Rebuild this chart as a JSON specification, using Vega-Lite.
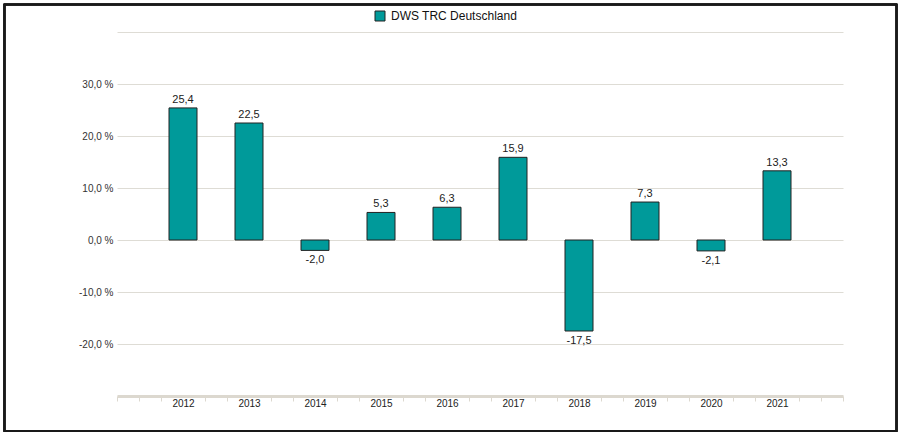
{
  "$schema": "https://vega.github.io/schema/vega-lite/v6.json",
  "width": 726,
  "height": 364,
  "autosize": {"type": "none"},
  "padding": {"left": 117, "top": 32, "right": 58, "bottom": 37},
  "background": "white",
  "config": {"view": {"stroke": null}, "font": "Liberation Sans"},
  "data": {"values": [
    {"year": 2012, "value": 25.4, "label": "25,4"},
    {"year": 2013, "value": 22.5, "label": "22,5"},
    {"year": 2014, "value": -2.0, "label": "-2,0"},
    {"year": 2015, "value": 5.3, "label": "5,3"},
    {"year": 2016, "value": 6.3, "label": "6,3"},
    {"year": 2017, "value": 15.9, "label": "15,9"},
    {"year": 2018, "value": -17.5, "label": "-17,5"},
    {"year": 2019, "value": 7.3, "label": "7,3"},
    {"year": 2020, "value": -2.1, "label": "-2,1"},
    {"year": 2021, "value": 13.3, "label": "13,3"}
  ]},
  "resolve": {"axis": {"x": "independent", "y": "independent"}},
  "encoding": {
    "x": {"field": "year", "type": "quantitative", "scale": {"domain": [2011, 2022], "nice": false, "zero": false, "padding": 0}, "axis": null},
    "y": {"field": "value", "type": "quantitative", "scale": {"domain": [-30, 40], "nice": false, "zero": false, "padding": 0}, "axis": null}
  },
  "layer": [
    {
      "mark": {"type": "bar", "opacity": 0},
      "encoding": {
        "x": {"field": "year", "type": "quantitative",
          "axis": {"orient": "bottom", "values": [2011, 2011.3333, 2011.6667, 2012.3333, 2012.6667, 2013.3333, 2013.6667, 2014.3333, 2014.6667, 2015.3333, 2015.6667, 2016.3333, 2016.6667, 2017.3333, 2017.6667, 2018.3333, 2018.6667, 2019.3333, 2019.6667, 2020.3333, 2020.6667, 2021.3333, 2021.6667, 2022],
            "labels": false, "title": null, "grid": false, "domain": true, "domainColor": "#dcd8cf", "domainWidth": 3, "ticks": true, "tickColor": "#dcd8cf", "tickSize": 5, "tickWidth": 1}},
        "y": {"field": "value", "type": "quantitative",
          "axis": {"orient": "left", "values": [-20, -10, 0, 10, 20, 30, 40], "labelExpr": "datum.value == 40 ? '' : replace(replace(format(datum.value, '.1f'), '.', ','), '\u2212', '-') + ' %'",
            "title": null, "domain": false, "ticks": false, "labelPadding": 4, "labelFontSize": 10, "labelColor": "#333", "grid": true, "gridColor": "#dedcd5", "gridWidth": 1}}
      }
    },
    {
      "mark": {"type": "bar", "size": 28, "orient": "vertical", "stroke": "#222", "strokeWidth": 1},
      "encoding": {
        "x": {"field": "year", "type": "quantitative",
          "axis": {"orient": "bottom", "values": [2012, 2013, 2014, 2015, 2016, 2017, 2018, 2019, 2020, 2021], "format": "d", "title": null, "grid": false, "domain": false, "ticks": false, "labelPadding": 2, "labelFontSize": 10, "labelColor": "#222"}},
        "y": {"field": "value", "type": "quantitative", "axis": null},
        "y2": {"datum": 0},
        "color": {"datum": "DWS TRC Deutschland", "type": "nominal", "scale": {"range": ["#009a9a"]},
          "legend": {"title": null, "orient": "none", "legendX": 257, "legendY": -22, "padding": 0, "symbolType": "square", "symbolSize": 100, "symbolStrokeColor": "#222", "symbolStrokeWidth": 1, "labelFontSize": 12, "labelColor": "#111", "labelOffset": 5}}
      }
    },
    {
      "transform": [{"filter": "datum.value >= 0"}],
      "mark": {"type": "text", "baseline": "alphabetic", "dy": -5, "fontSize": 11, "color": "#222"},
      "encoding": {"text": {"field": "label"}}
    },
    {
      "transform": [{"filter": "datum.value < 0"}],
      "mark": {"type": "text", "baseline": "top", "dy": 4, "fontSize": 11, "color": "#222"},
      "encoding": {"text": {"field": "label"}}
    },
    {
      "mark": {"type": "rect", "fill": null, "stroke": "#1a1a1a", "strokeWidth": 1.5, "clip": false},
      "encoding": {
        "x": {"datum": 2009.295, "type": "quantitative", "axis": null},
        "x2": {"datum": 2022.811},
        "y": {"datum": 45.288, "type": "quantitative", "axis": null},
        "y2": {"datum": -36.731}
      }
    }
  ]
}
